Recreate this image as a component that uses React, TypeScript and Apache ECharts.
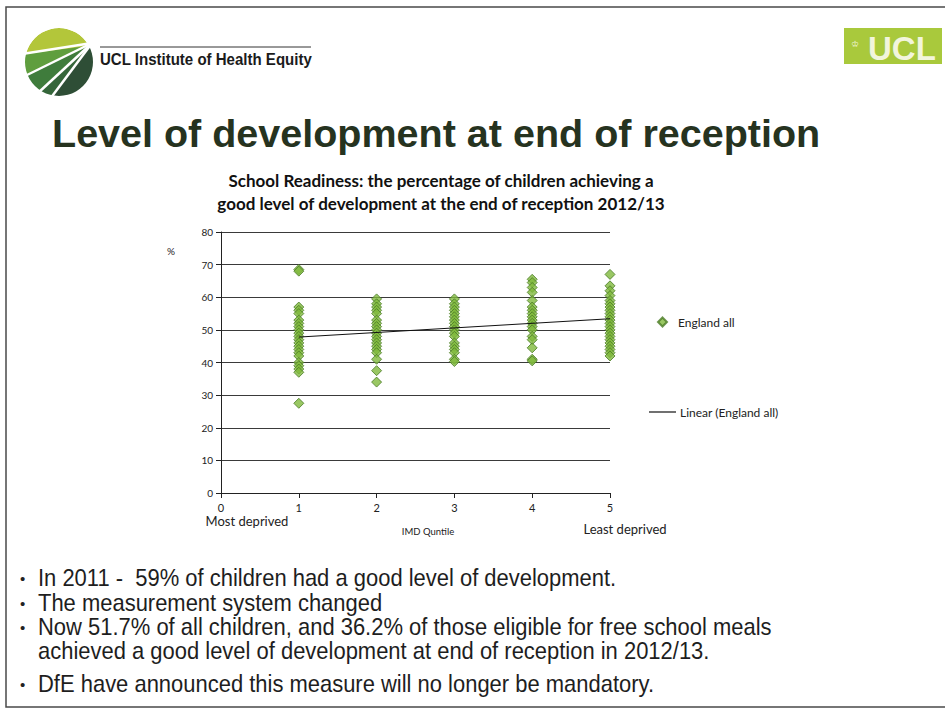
import React, { useEffect, useRef } from "react";
import * as echarts from "echarts";

// ---- data ----
const quintiles = [1, 2, 3, 4, 5];
const q1Values = [68.5, 68, 57, 56, 55, 53, 52, 51, 50, 49, 48, 47, 46, 45, 44, 43, 42, 40, 39, 38, 37, 27.5];
const q2Values = [59.5, 58, 57, 56, 55, 53, 52, 51, 50, 49, 48, 47, 46, 45, 44, 43, 41, 37.5, 34];
const q3Values = [59.5, 58, 57, 56, 55, 54, 53, 52, 51, 50, 49, 48, 46, 45, 44, 43, 41, 40.3];
const q4Values = [65.5, 64.5, 63, 61.5, 59, 57, 56, 55, 54, 53, 52, 51, 50, 48, 47, 44.5, 41, 40.5];
const q5Values = [67, 63.5, 62, 60.5, 59, 58, 57, 56, 55, 54, 53, 52, 51, 50, 49, 48, 47, 46, 45, 44, 43, 42];
const yTicks = [0, 10, 20, 30, 40, 50, 60, 70, 80];
const xTicks = [0, 1, 2, 3, 4, 5];
const seriesName = "England all";
const trendName = "Linear (England all)";
const slideTitle = "Level of development at end of reception";
const chartTitle = [
  "School Readiness: the percentage of children achieving a",
  "good level of development at the end of reception 2012/13",
];
const bullets = [
  "In 2011 -  59% of children had a good level of development.",
  "The measurement system changed",
  "Now 51.7% of all children, and 36.2% of those eligible for free school meals",
  "achieved a good level of development at end of reception in 2012/13.",
  "DfE have announced this measure will no longer be mandatory.",
];
const bulletMarks = [true, true, true, false, true];

const groups = [q1Values, q2Values, q3Values, q4Values, q5Values];

function buildPoints(): number[][] {
  const pts: number[][] = [];
  groups.forEach((vals, i) => vals.forEach((v) => pts.push([quintiles[i], v])));
  return pts;
}

function regression(pts: number[][]) {
  const n = pts.length;
  let sx = 0, sy = 0, sxx = 0, sxy = 0;
  pts.forEach(([x, y]) => { sx += x; sy += y; sxx += x * x; sxy += x * y; });
  const b = (n * sxy - sx * sy) / (n * sxx - sx * sx);
  const a = (sy - b * sx) / n;
  return { a, b };
}

export default function App() {
  const ref = useRef<HTMLDivElement>(null);
  useEffect(() => {
    if (!ref.current) return;
    const chart = echarts.init(ref.current, null, { renderer: "svg" });
    const pts = buildPoints();
    const { a, b } = regression(pts);
    const xMin = quintiles[0];
    const xMax = quintiles[quintiles.length - 1];
    const trend = [[xMin, a + b * xMin], [xMax, a + b * xMax]];

    // logo geometry
    const P = [88, 46];
    const cx = 59, cy = 62, r = 34;
    const far = [[8, 56], [12, 82], [28, 103], [43, 110]];
    const bandColors = ["#5f9e3e", "#3f7c3c", "#35663a"];
    const logo: any[] = [];
    logo.push({ type: "circle", shape: { cx, cy, r }, style: { fill: "#b3c63a" }, z: 10 });
    for (let i = 0; i < 3; i++) {
      logo.push({
        type: "polygon",
        shape: { points: [P, far[i], far[i + 1]] },
        style: { fill: bandColors[i] },
        z: 11,
      });
    }
    logo.push({
      type: "polygon",
      shape: { points: [P, far[3], [70, 108], [95, 90], [100, 60], [95, 45]] },
      style: { fill: "#2e4e36" },
      z: 11,
    });
    const lineEnds = [[22, 54], [25, 76], [38, 93], [50, 99]];
    lineEnds.forEach((e) => {
      logo.push({
        type: "line",
        shape: { x1: P[0] + 4, y1: P[1] - 3, x2: e[0], y2: e[1] },
        style: { stroke: "#ffffff", lineWidth: 2.5 },
        z: 12,
      });
    });
    logo.push({ type: "ring", shape: { cx, cy, r0: r, r: 55 }, style: { fill: "#ffffff" }, z: 13 });

    const bulletTop = [578, 603, 627, 651, 684];
    const bulletGraphics: any[] = [];
    bullets.forEach((t, i) => {
      if (bulletMarks[i]) {
        bulletGraphics.push({
          type: "text", x: 20, y: bulletTop[i],
          style: { text: "•", font: "15px 'Liberation Sans'", fill: "#222", textVerticalAlign: "middle" },
          z: 20,
        });
      }
      bulletGraphics.push({
        type: "text", x: 38, y: bulletTop[i], scaleX: 0.915,
        style: { text: t, font: "24px 'Liberation Sans'", fill: "#1e1e1e", textVerticalAlign: "middle" },
        z: 20,
      });
    });

    chart.setOption({
      animation: false,
      backgroundColor: "#ffffff",
      title: {
        text: chartTitle.join("\n"),
        left: 436,
        top: 164,
        textAlign: "center",
        textStyle: { fontFamily: "Lato", fontWeight: "bold", fontSize: 17, lineHeight: 23, color: "#111" },
      },
      grid: { left: 221, right: 335, top: 232, bottom: 227 },
      xAxis: {
        type: "value", min: 0, max: 5, interval: 1,
        axisLine: { show: true, lineStyle: { color: "#222", width: 1 } },
        axisTick: { show: true, length: 5, lineStyle: { color: "#222" } },
        axisLabel: { color: "#222", fontFamily: "Lato", fontSize: 11, margin: 9,
          formatter: (v: number) => (xTicks.includes(v) ? String(v) : "") },
        splitLine: { show: false },
      },
      yAxis: {
        type: "value", min: yTicks[0], max: yTicks[yTicks.length - 1], interval: 10,
        axisLine: { show: true, lineStyle: { color: "#222", width: 1 } },
        axisTick: { show: true, length: 5, lineStyle: { color: "#222" } },
        axisLabel: { color: "#222", fontFamily: "Lato", fontSize: 10, margin: 8 },
        splitLine: { show: true, lineStyle: { color: "#3a3a3a", width: 1 } },
      },
      legend: [
        {
          data: [seriesName], left: 657, top: 316, orient: "vertical", padding: 0,
          icon: "diamond", itemWidth: 9, itemHeight: 9,
          textStyle: { fontFamily: "Lato", fontSize: 12, color: "#222", padding: [0, 0, 0, 6] },
        },
        {
          data: [trendName], left: 649, top: 406, orient: "vertical", padding: 0,
          icon: "rect", itemWidth: 27, itemHeight: 1.2,
          itemStyle: { color: "#111" },
          textStyle: { fontFamily: "Lato", fontSize: 12, color: "#222", padding: [0, 0, 0, -1] },
        },
      ],
      series: [
        {
          name: seriesName, type: "scatter", symbol: "diamond", symbolSize: 10,
          data: pts,
          itemStyle: { color: "#80b93c", borderColor: "#4a7a26", borderWidth: 1 },
          z: 3,
        },
        {
          name: trendName, type: "line", data: trend, symbol: "none", showSymbol: false,
          lineStyle: { color: "#111", width: 1 }, itemStyle: { color: "#111" }, z: 4,
        },
      ],
      graphic: [
        ...logo,
        { type: "rect", shape: { x: 6, y: 7, width: 1000, height: 700 }, style: { fill: "none", stroke: "#4a4a4a", lineWidth: 1.5 }, z: 30 },
        { type: "line", shape: { x1: 100, y1: 47, x2: 311, y2: 47 }, style: { stroke: "#333", lineWidth: 1 }, z: 20 },
        { type: "text", x: 100, y: 59, scaleX: 0.94, style: { text: "UCL Institute of Health Equity", font: "bold 16px 'Liberation Sans'", fill: "#1b1b1b", textVerticalAlign: "middle" }, z: 20 },
        { type: "rect", shape: { x: 844, y: 28, width: 98, height: 36 }, style: { fill: "#a9c93c" }, z: 20 },
        { type: "text", x: 851, y: 44, style: { text: "♔", font: "9px 'DejaVu Sans'", fill: "#f3f6dc", textVerticalAlign: "middle" }, z: 21 },
        { type: "text", x: 868, y: 48, style: { text: "UCL", font: "bold 33px 'Liberation Sans'", fill: "#f2f5dc", textVerticalAlign: "middle" }, z: 21 },
        { type: "text", x: 52, y: 133, style: { text: slideTitle, font: "bold 39.5px 'Liberation Sans'", fill: "#26331f", textVerticalAlign: "middle" }, z: 20 },
        { type: "text", x: 167, y: 251, style: { text: "%", font: "10px Lato", fill: "#222", textVerticalAlign: "middle" }, z: 20 },
        { type: "text", x: 247, y: 521, style: { text: "Most deprived", font: "13px Lato", fill: "#222", textAlign: "center", textVerticalAlign: "middle" }, z: 20 },
        { type: "text", x: 428, y: 531, style: { text: "IMD Quntile", font: "9.5px Lato", fill: "#222", textAlign: "center", textVerticalAlign: "middle" }, z: 20 },
        { type: "text", x: 625, y: 529, style: { text: "Least deprived", font: "13px Lato", fill: "#222", textAlign: "center", textVerticalAlign: "middle" }, z: 20 },
        ...bulletGraphics,
      ],
    });
    return () => chart.dispose();
  }, []);
  return <div ref={ref} style={{ position: "absolute", left: 0, top: 0, width: 945, height: 720 }} />;
}
